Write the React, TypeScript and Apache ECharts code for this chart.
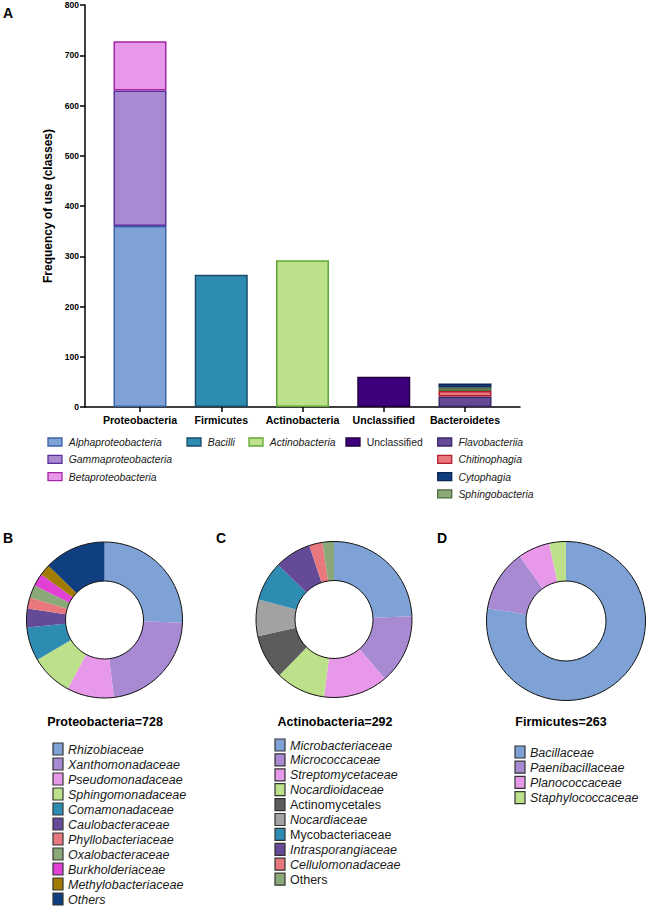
import React, { useEffect, useRef } from 'react';
import * as echarts from 'echarts';

// ---------- Panel A data ----------
const phyla = ['Proteobacteria', 'Firmicutes', 'Actinobacteria', 'Unclassified', 'Bacteroidetes'];
const yMax = 800;
const yInterval = 100;

const classNames = [
  'Alphaproteobacteria', 'Gammaproteobacteria', 'Betaproteobacteria',
  'Bacilli', 'Actinobacteria', 'Unclassified',
  'Flavobacteriia', 'Chitinophagia', 'Sphingobacteria', 'Cytophagia',
];
const classPhylum = [0, 0, 0, 1, 2, 3, 4, 4, 4, 4];
const classValues = [360, 270, 98, 263, 292, 60, 21, 11, 7, 8];
const classFill = ['#7ea2d5', '#a78ad2', '#e898e9', '#2e8bb1', '#bde08b', '#3e007c', '#654a97', '#e8787d', '#8aa878', '#0f3f80'];
const classBorder = ['#3c62a8', '#5c2f9e', '#a626a6', '#1b4c68', '#5fa634', '#22003f', '#3a2766', '#b31d2d', '#4c6a3a', '#0a2650'];
const classItalic = [true, true, true, true, true, false, true, true, true, true];
// legend columns (indices into classNames)
const barLegendColumns = [[0, 1, 2], [3], [4], [5], [6, 7, 9, 8]];

// ---------- Panel B data ----------
const proteoFamilies = [
  'Rhizobiaceae', 'Xanthomonadaceae', 'Pseudomonadaceae', 'Sphingomonadaceae', 'Comamonadaceae',
  'Caulobacteraceae', 'Phyllobacteriaceae', 'Oxalobacteraceae', 'Burkholderiaceae', 'Methylobacteriaceae', 'Others',
];
const proteoValues = [186, 164, 71, 63, 51, 28, 17, 19, 19, 17, 93];
const proteoColors = ['#7ea2d5', '#a78ad2', '#e898e9', '#bde08b', '#2e8bb1', '#654a97', '#e8787d', '#8aa878', '#e040d3', '#a27c00', '#0f3f80'];
const proteoItalic = [true, true, true, true, true, true, true, true, true, true, true];

// ---------- Panel C data ----------
const actinoFamilies = [
  'Microbacteriaceae', 'Micrococcaceae', 'Streptomycetaceae', 'Nocardioidaceae', 'Actinomycetales',
  'Nocardiaceae', 'Mycobacteriaceae', 'Intrasporangiaceae', 'Cellulomonadaceae', 'Others',
];
const actinoValues = [71, 42, 39, 30, 27, 22, 24, 22, 8, 7];
const actinoColors = ['#7ea2d5', '#a78ad2', '#e898e9', '#bde08b', '#5c5c5c', '#a2a2a2', '#2e8bb1', '#654a97', '#e8787d', '#8aa878'];
const actinoItalic = [true, true, true, true, false, true, false, true, true, false];

// ---------- Panel D data ----------
const firmiFamilies = ['Bacillaceae', 'Paenibacillaceae', 'Planococcaceae', 'Staphylococcaceae'];
const firmiValues = [204, 33, 17, 9];
const firmiColors = ['#7ea2d5', '#a78ad2', '#e898e9', '#bde08b'];
const firmiItalic = [true, true, true, true];

const FONT = "'Liberation Sans', Arial, Helvetica, sans-serif";
const sum = (a: number[]) => a.reduce((s, v) => s + v, 0);

function pieSeries(center: number[], radius: number[], names: string[], values: number[], colors: string[]) {
  return [
    {
      type: 'pie',
      center,
      radius,
      startAngle: 90,
      clockwise: true,
      silent: true,
      avoidLabelOverlap: false,
      label: { show: false },
      labelLine: { show: false },
      emphasis: { disabled: true },
      itemStyle: { borderWidth: 0 },
      data: values.map((v, i) => ({ name: names[i], value: v, itemStyle: { color: colors[i] } })),
    },
    {
      type: 'pie',
      center,
      radius,
      silent: true,
      label: { show: false },
      labelLine: { show: false },
      emphasis: { disabled: true },
      itemStyle: { color: 'rgba(0,0,0,0)', borderColor: '#111', borderWidth: 1 },
      data: [{ name: 'outline', value: 1 }],
    },
  ];
}

function pieLegend(x: number, y0: number, step: number, names: string[], colors: string[], italic: boolean[]) {
  const els: any[] = [];
  names.forEach((n, i) => {
    const y = y0 + i * step;
    els.push({
      type: 'rect',
      silent: true,
      shape: { x, y: y - 6, width: 10, height: 12 },
      style: { fill: colors[i], stroke: '#333', lineWidth: 1.2 },
    });
    els.push({
      type: 'text',
      silent: true,
      x: x + 15,
      y: y + 0.5,
      style: {
        text: n, fill: '#1a1a1a', fontSize: 12.5, fontFamily: FONT,
        fontStyle: italic[i] ? 'italic' : 'normal', align: 'left', verticalAlign: 'middle',
      },
    });
  });
  return els;
}

function barLegend() {
  const colX = [48, 187, 249, 346, 437.7];
  const els: any[] = [];
  barLegendColumns.forEach((col, c) => {
    col.forEach((idx, r) => {
      const y = 442 + r * 17.3;
      els.push({
        type: 'rect',
        silent: true,
        shape: { x: colX[c], y: y - 4, width: 14, height: 8 },
        style: { fill: classFill[idx], stroke: classBorder[idx], lineWidth: 1.3 },
      });
      els.push({
        type: 'text',
        silent: true,
        x: colX[c] + 20.7,
        y: y + 0.5,
        style: {
          text: classNames[idx], fill: '#1a1a1a', fontSize: 10.4, fontFamily: FONT,
          fontStyle: classItalic[idx] ? 'italic' : 'normal', align: 'left', verticalAlign: 'middle',
        },
      });
    });
  });
  return els;
}

function panelLetter(t: string, x: number, y: number) {
  return {
    type: 'text', silent: true, x, y,
    style: { text: t, fill: '#000', fontSize: 14, fontWeight: 'bold', fontFamily: FONT, align: 'left', verticalAlign: 'middle' },
  };
}

function pieTitle(t: string, x: number, y: number) {
  return {
    type: 'text', silent: true, x, y,
    style: { text: t, fill: '#000', fontSize: 12.5, fontWeight: 'bold', fontFamily: FONT, align: 'center', verticalAlign: 'middle' },
  };
}

export default function App() {
  const ref = useRef<HTMLDivElement>(null);
  useEffect(() => {
    if (!ref.current) return;
    const chart = echarts.init(ref.current, null, { renderer: 'svg' });

    const barSeries = classNames.map((name, i) => ({
      type: 'bar',
      name,
      xAxisIndex: 1,
      yAxisIndex: 1,
      stack: 'total',
      barWidth: 53,
      silent: true,
      itemStyle: { color: classFill[i], borderColor: classBorder[i], borderWidth: 1.5 },
      data: phyla.map((_, p) => (p === classPhylum[i] ? classValues[i] : '-')),
    }));

    const option: any = {
      animation: false,
      textStyle: { fontFamily: FONT },
      grid: [
        { left: 85, top: 5, width: 435, height: 402 },
        { left: 99.375, top: 5, width: 406.25, height: 402 },
      ],
      xAxis: [
        {
          type: 'value', gridIndex: 0, min: 0, max: 1,
          axisLine: { show: true, lineStyle: { color: '#000', width: 1.5 } },
          axisTick: { show: false }, axisLabel: { show: false }, splitLine: { show: false },
        },
        {
          type: 'category', gridIndex: 1, data: phyla,
          axisLine: { show: false },
          axisTick: { show: true, alignWithLabel: true, length: 5, lineStyle: { color: '#000', width: 1.5 } },
          axisLabel: { color: '#000', fontWeight: 'bold', fontSize: 10.6, margin: 7, interval: 0, fontFamily: FONT },
          splitLine: { show: false },
        },
      ],
      yAxis: [
        {
          type: 'value', gridIndex: 0, min: 0, max: yMax, interval: yInterval,
          axisLine: { show: true, lineStyle: { color: '#000', width: 1.5 } },
          axisTick: { show: true, length: 5, lineStyle: { color: '#000', width: 1.5 } },
          axisLabel: { color: '#000', fontWeight: 'bold', fontSize: 8.5, margin: 6, fontFamily: FONT },
          splitLine: { show: false },
          name: 'Frequency of use (classes)',
          nameLocation: 'middle',
          nameGap: 18,
          nameTextStyle: { color: '#000', fontWeight: 'bold', fontSize: 12, fontFamily: FONT },
        },
        { type: 'value', gridIndex: 1, min: 0, max: yMax, show: false },
      ],
      series: [
        ...barSeries,
        ...pieSeries([104.5, 620], [39, 78], proteoFamilies, proteoValues, proteoColors),
        ...pieSeries([334, 619.5], [39, 78], actinoFamilies, actinoValues, actinoColors),
        ...pieSeries([566, 621], [40, 79.5], firmiFamilies, firmiValues, firmiColors),
      ],
      graphic: [
        panelLetter('A', 3, 13),
        panelLetter('B', 3, 538),
        panelLetter('C', 216, 538),
        panelLetter('D', 437, 538),
        ...barLegend(),
        pieTitle(`Proteobacteria=${sum(proteoValues)}`, 105, 722),
        pieTitle(`Actinobacteria=${sum(actinoValues)}`, 335, 722),
        pieTitle(`Firmicutes=${sum(firmiValues)}`, 561, 722),
        ...pieLegend(53, 749, 15, proteoFamilies, proteoColors, proteoItalic),
        ...pieLegend(275, 745, 14.9, actinoFamilies, actinoColors, actinoItalic),
        ...pieLegend(515, 752, 15.2, firmiFamilies, firmiColors, firmiItalic),
      ],
    };
    chart.setOption(option);
    return () => chart.dispose();
  }, []);
  return (
    <div
      ref={ref}
      style={{ position: 'fixed', left: 0, top: 0, width: 649, height: 907, background: '#fff' }}
    />
  );
}
